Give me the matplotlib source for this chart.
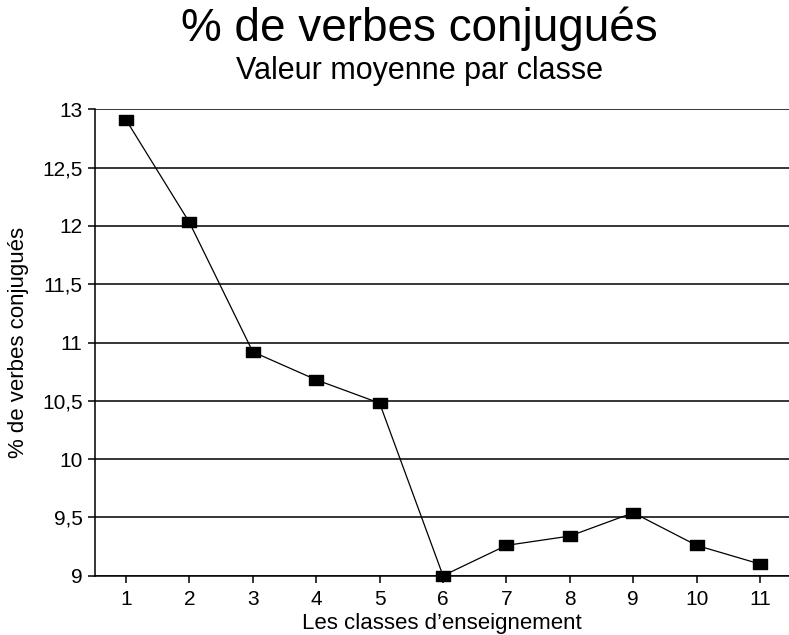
import matplotlib
matplotlib.use("Agg")
import matplotlib.pyplot as plt
from matplotlib.path import Path

plt.rcParams['font.family'] = ['Liberation Sans', 'DejaVu Sans']

classes = [1, 2, 3, 4, 5, 6, 7, 8, 9, 10, 11]
values = [12.91, 12.03, 10.92, 10.68, 10.48, 9.0, 9.26, 9.34, 9.54, 9.26, 9.10]
yticks = [9, 9.5, 10, 10.5, 11, 11.5, 12, 12.5, 13]
ytick_labels = ['9', '9,5', '10', '10,5', '11', '11,5', '12', '12,5', '13']

fig = plt.figure(figsize=(7.89, 6.35), dpi=100)
ax = fig.add_axes([95/789, 1-575.7/635, 1-95/789, (575.7-109.3)/635])

for y in yticks:
    ax.axhline(y, color='black', lw=1.1, zorder=1)

rect = Path([(-0.7, -0.48), (0.7, -0.48), (0.7, 0.48), (-0.7, 0.48), (-0.7, -0.48)],
            [Path.MOVETO, Path.LINETO, Path.LINETO, Path.LINETO, Path.CLOSEPOLY])
ax.plot(classes, values, color='black', lw=0.9, marker=rect, markersize=9.5,
        markerfacecolor='black', markeredgecolor='black', zorder=3, clip_on=False)

ax.set_xlim(0.511, 11.457)
ax.set_ylim(9, 13)
ax.set_xticks(classes)
ax.set_yticks(yticks)
ax.set_yticklabels(ytick_labels)
for s in ['top', 'right']:
    ax.spines[s].set_visible(False)
ax.spines['left'].set_linewidth(1.1)
ax.spines['bottom'].set_linewidth(1.1)
ax.tick_params(axis='both', labelsize=15, length=5, width=1.1, direction='out')
ax.tick_params(axis='x', pad=5)
ax.tick_params(axis='y', pad=4)

ax.set_xlabel("Les classes d\u2019enseignement", fontsize=16, labelpad=3)
ax.set_ylabel("% de verbes conjugués", fontsize=16, labelpad=9)

fig.text(0.532, 0.955, "% de verbes conjugués", fontsize=33, ha='center', va='center')
fig.text(0.532, 0.888, "Valeur moyenne par classe", fontsize=22, ha='center', va='center')

fig.savefig("out.png", dpi=100)
